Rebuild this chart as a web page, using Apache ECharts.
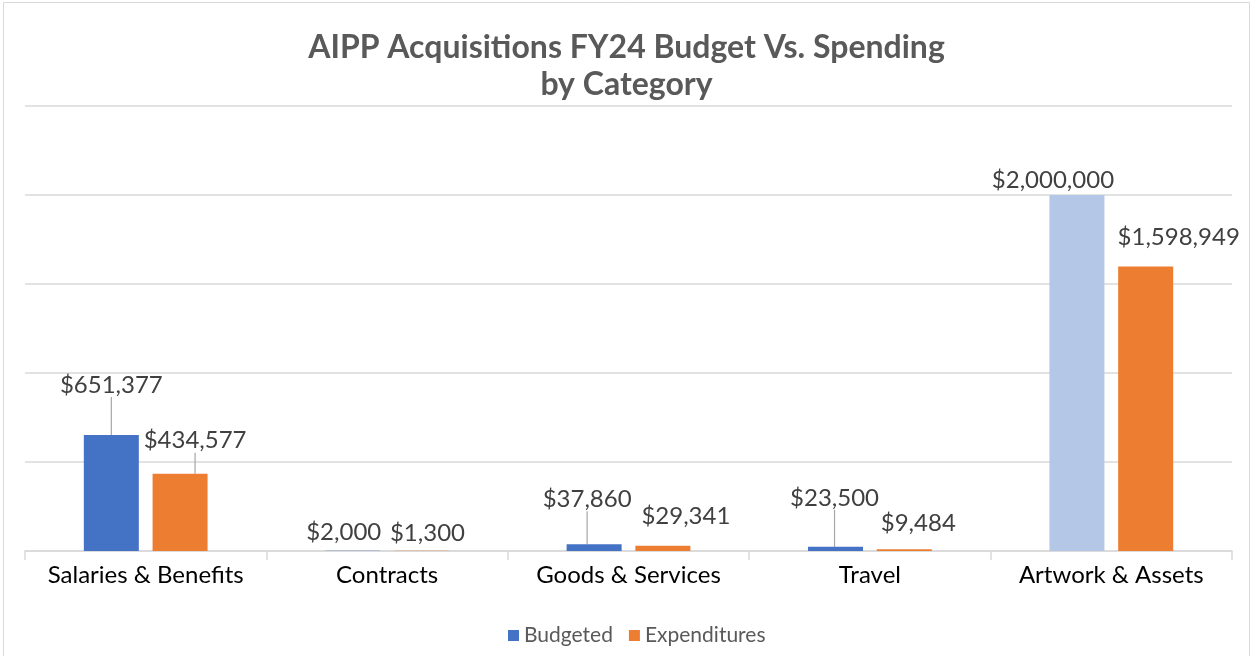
<!DOCTYPE html>
<html>
<head>
<meta charset="utf-8">
<script src="https://cdn.jsdelivr.net/npm/echarts@6/dist/echarts.min.js"></script>
<style>
  html, body { margin: 0; padding: 0; background: #fff; }
  #chart { width: 1253px; height: 656px; }
</style>
</head>
<body>
<div id="chart"></div>
<script>
const categories = ["Salaries & Benefits", "Contracts", "Goods & Services", "Travel", "Artwork & Assets"];
const budgeted = [651377, 2000, 37860, 23500, 2000000];
const expenditures = [434577, 1300, 29341, 9484, 1598949];

// label nudges (dx, dy) and whether a leader line is drawn
const budgetShift = [[0, -34, true], [-9, -2, false], [-7, -29, true], [-1, -33, true], [-24, 1, false]];
const spendShift = [[15, -17, true], [6, -2, false], [23, -14, false], [14, -10, false], [33, -13, false]];

const money = v => "$" + v.toLocaleString("en-US");
const font = "Lato, 'Open Sans', sans-serif";

function itemsOf(vals, shifts, colorFn) {
  return vals.map((v, i) => {
    const d = { value: v, labelLine: { show: shifts[i][2] } };
    if (colorFn) { const c = colorFn(i); if (c) d.itemStyle = { color: c }; }
    return d;
  });
}

const chart = echarts.init(document.getElementById("chart"), null, { renderer: "canvas" });

const labelCfg = {
  show: true,
  position: "top",
  distance: 4,
  fontFamily: font,
  fontSize: 24,
  color: "#404040",
  formatter: p => money(p.value)
};

chart.setOption({
  animation: false,
  textStyle: { fontFamily: font },
  title: {
    text: "AIPP Acquisitions FY24 Budget Vs. Spending\nby Category",
    left: "center",
    top: 24,
    textStyle: { fontFamily: font, fontSize: 32, fontWeight: "bold", color: "#595959", lineHeight: 37 }
  },
  legend: {
    bottom: 5,
    left: 503,
    itemWidth: 11,
    itemHeight: 11,
    itemGap: 16,
    icon: "rect",
    textStyle: { fontFamily: font, fontSize: 21, color: "#595959" },
    data: ["Budgeted", "Expenditures"]
  },
  graphic: [{
    type: "rect",
    shape: { x: 3.5, y: 2.5, width: 1246, height: 700 },
    style: { fill: "none", stroke: "#d9d9d9", lineWidth: 1 },
    silent: true
  }],
  grid: { left: 25, right: 21, top: 106, bottom: 105 },
  xAxis: {
    type: "category",
    data: categories,
    axisLine: { lineStyle: { color: "#d9d9d9", width: 1.5 } },
    axisTick: { show: true, length: 9, lineStyle: { color: "#d9d9d9", width: 1.5 } },
    axisLabel: { interval: 0, hideOverlap: false, fontFamily: font, fontSize: 24, color: "#000", margin: 12 }
  },
  yAxis: {
    type: "value",
    min: 0,
    max: 2500000,
    interval: 500000,
    axisLabel: { show: false },
    axisLine: { show: false },
    axisTick: { show: false },
    splitLine: { lineStyle: { color: "#d9d9d9", width: 1.5 } }
  },
  series: [
    {
      name: "Budgeted",
      type: "bar",
      barWidth: 55,
      barGap: "25%",
      itemStyle: { color: "#4472C4" },
      data: itemsOf(budgeted, budgetShift, i => i === 4 ? "#B4C7E7" : null),
      label: labelCfg,
      labelLine: { show: true, lineStyle: { color: "#a6a6a6", width: 1.2 } },
      labelLayout: p => ({ dx: budgetShift[p.dataIndex][0], dy: budgetShift[p.dataIndex][1] })
    },
    {
      name: "Expenditures",
      type: "bar",
      barWidth: 55,
      barGap: "25%",
      itemStyle: { color: "#ED7D31" },
      data: itemsOf(expenditures, spendShift),
      label: labelCfg,
      labelLine: { show: true, lineStyle: { color: "#a6a6a6", width: 1.2 } },
      labelLayout: p => ({ dx: spendShift[p.dataIndex][0], dy: spendShift[p.dataIndex][1] })
    }
  ]
});
</script>
</body>
</html>
